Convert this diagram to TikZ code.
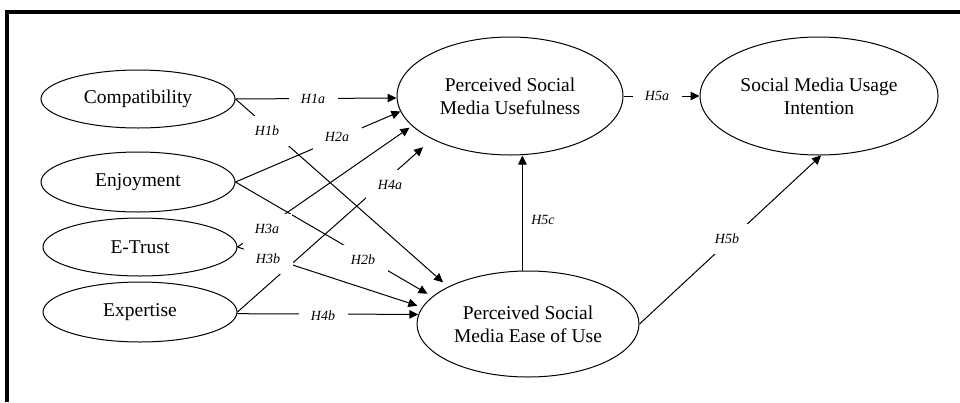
\documentclass[tikz,border=0pt]{standalone}
\usepackage{fontspec}
\setmainfont{Liberation Serif}
\usetikzlibrary{shapes.geometric,arrows.meta}
\begin{document}
\begin{tikzpicture}[x=1pt,y=-1pt,
  ell/.style={draw, ellipse, inner sep=0pt, line width=1pt, font=\fontsize{19.5}{23}\selectfont, align=center},
  conn/.style={line width=1pt},
  arr/.style={conn, -{Triangle[length=9pt,width=8.5pt]}},
  lbltext/.style={font=\fontsize{14}{16}\selectfont\itshape},
  lbl/.style={lbltext, fill=white, inner sep=0pt, minimum width=49pt, minimum height=30pt},
  frame/.style={line width=3.8pt, line join=miter},
]
\useasboundingbox (0,0) rectangle (960,402);
\draw[frame] (6.7,402) -- (6.7,12) -- (962,12);

% constructs
\node[ell, minimum width=194pt, minimum height=58pt] (comp) at (138,99) {Compatibility};
\node[ell, minimum width=194pt, minimum height=60pt] (enj) at (138,182) {Enjoyment};
\node[ell, minimum width=194pt, minimum height=58pt] (etr) at (140,247) {E-Trust};
\node[ell, minimum width=194pt, minimum height=60pt] (exp) at (140,312) {Expertise};
\node[ell, minimum width=226pt, minimum height=118pt] (psmu) at (510,96) {Perceived Social\\Media Usefulness};
\node[ell, minimum width=238pt, minimum height=118pt] (smui) at (819,96) {Social Media Usage\\Intention};
\node[ell, minimum width=222pt, minimum height=106pt] (psmeu) at (528,324) {Perceived Social\\Media Ease of Use};

% paths
\draw[arr] (comp.east) -- (psmu.181.5);
\draw[arr, shorten >=6.6pt] (comp.east) -- (psmeu.155.2);
\draw[arr] (enj.east) -- (psmu.188.9);
\draw[arr, shorten >=5.5pt] (enj.east) -- (psmeu.164.7);
\draw[arr, shorten >=3pt] (etr.east) -- (psmu.197.2);
\draw[arr, shorten >=5pt] (etr.east) -- (psmeu.171.7);
\draw[arr, shorten >=12pt] (exp.east) -- (psmu.209);
\draw[arr] (exp.-1.8) -- (psmeu.175.3);
\draw[arr] (psmu.east) -- (smui.west);
\draw[arr] (psmeu.96) -- (psmeu.96 |- psmu.south);
\draw[arr] (psmeu.east) -- (smui.-88);

% labels
\node[lbl] (h1a) at (313,99) {H1a};
\node[lbl] (h1b) at (267,131) {H1b};
\node[lbl] (h2a) at (337,137) {H2a};
\node[lbl] (h2b) at (363,260) {H2b};
\node[lbl] (h3a) at (267,229) {H3a};
\node[lbl] (h3b) at (268,259) {H3b};
\node[lbl] (h4a) at (390,185) {H4a};
\node[lbl] (h4b) at (323,316) {H4b};
\node[lbl] (h5a) at (657,96) {H5a};
\node[lbltext] (h5c) at (543,220) {H5c};
\node[lbl] (h5b) at (727,239) {H5b};
\end{tikzpicture}
\end{document}
